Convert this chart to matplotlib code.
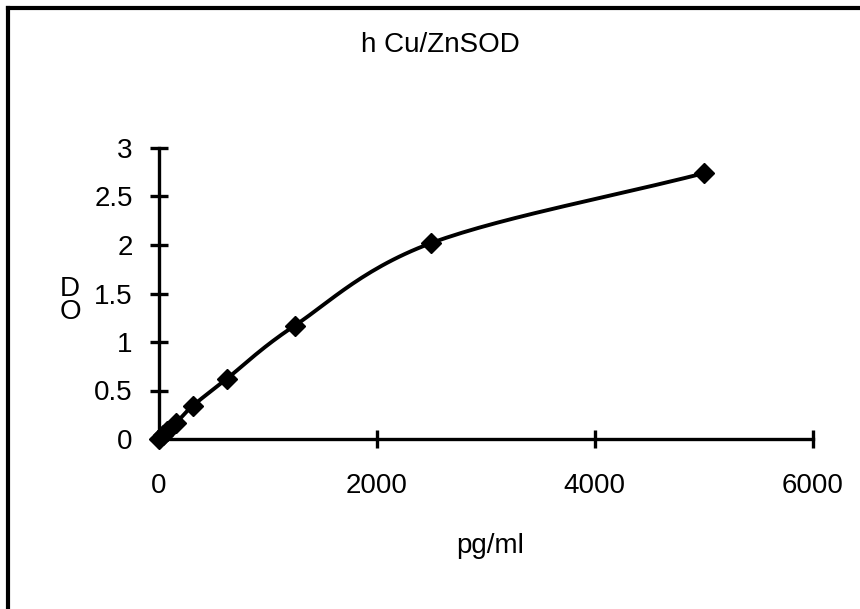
import numpy as np
import matplotlib
matplotlib.use('Agg')
import matplotlib.pyplot as plt
from matplotlib.lines import Line2D

# standard curve values
conc = [0, 39, 78, 156.25, 312.5, 625, 1250, 2500, 5000]
od = [0.0, 0.04, 0.08, 0.16, 0.34, 0.62, 1.17, 2.02, 2.74]

x_ticks = [0, 2000, 4000, 6000]
y_ticks = [0, 0.5, 1, 1.5, 2, 2.5, 3]
y_tick_labels = ['0', '0.5', '1', '1.5', '2', '2.5', '3']


def smooth(xs, ys, n=30):
    # catmull-rom style smoothing, like the smoothed line of a spreadsheet chart
    xs = np.asarray(xs, float)
    ys = np.asarray(ys, float)
    px = np.concatenate([[2 * xs[0] - xs[1]], xs, [2 * xs[-1] - xs[-2]]])
    py = np.concatenate([[2 * ys[0] - ys[1]], ys, [2 * ys[-1] - ys[-2]]])
    outx, outy = [], []
    t = np.linspace(0, 1, n)
    h00 = 2 * t**3 - 3 * t**2 + 1
    h10 = t**3 - 2 * t**2 + t
    h01 = -2 * t**3 + 3 * t**2
    h11 = t**3 - t**2
    for i in range(1, len(px) - 2):
        for p, out in ((px, outx), (py, outy)):
            p0, p1, p2, p3 = p[i - 1], p[i], p[i + 1], p[i + 2]
            m1 = (p2 - p0) / 2
            m2 = (p3 - p1) / 2
            out.extend(h00 * p1 + h10 * m1 + h01 * p2 + h11 * m2)
    return outx, outy


plt.rcParams['font.family'] = ['Liberation Sans', 'DejaVu Sans']
fs = 20

fig = plt.figure(figsize=(8.6, 6.09), dpi=100)
ax = fig.add_axes([158.5 / 860, 1 - 439 / 609, (813 - 158.5) / 860, 291 / 609])

sx, sy = smooth(conc, od)
ax.plot(sx, sy, color='black', lw=2.8, solid_capstyle='round', clip_on=False)
ax.plot(conc, od, linestyle='none', marker='D', markersize=10,
        color='black', clip_on=False, zorder=3)

ax.set_xlim(0, 6000)
ax.set_ylim(0, 3)
ax.set_xticks(x_ticks)
ax.set_yticks(y_ticks)
ax.set_yticklabels(y_tick_labels)

for s in ['top', 'right']:
    ax.spines[s].set_visible(False)
for s in ['left', 'bottom']:
    ax.spines[s].set_linewidth(2.4)

ax.tick_params(direction='inout', length=13, width=2.4, labelsize=fs)
ax.tick_params(axis='x', pad=18)
ax.tick_params(axis='y', pad=12)

fig.text(440 / 860, 1 - 45 / 609, 'h Cu/ZnSOD', ha='center', va='center', fontsize=fs)
fig.text(490 / 860, 1 - 546 / 609, 'pg/ml', ha='center', va='center', fontsize=fs)
fig.text(70 / 860, 1 - 300 / 609, 'D\nO', ha='center', va='center', fontsize=fs,
         linespacing=0.85)

# outer frame (only top and left edges fall inside the image)
fig.add_artist(Line2D([8 / 860, 1.0], [1 - 8 / 609, 1 - 8 / 609], color='black', lw=3,
                      transform=fig.transFigure))
fig.add_artist(Line2D([8 / 860, 8 / 860], [0, 1 - 8 / 609], color='black', lw=3,
                      transform=fig.transFigure))

fig.savefig('out.png', dpi=100)
